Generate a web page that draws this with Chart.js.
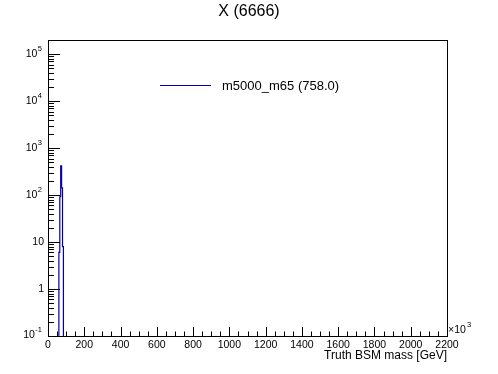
<!DOCTYPE html>
<html>
<head>
<meta charset="utf-8">
<script src="https://cdn.jsdelivr.net/npm/chart.js@4/dist/chart.umd.min.js"></script>
<style>
  html, body { margin: 0; padding: 0; background: #fff; }
  #wrap { width: 498px; height: 374px; }
</style>
</head>
<body>
<div id="wrap"><canvas id="histChart" width="498" height="374"></canvas></div>
<script>
// histogram bins (GeV) and counts
const binEdges = [60, 65, 70, 75, 80, 85];
const counts = [6, 92, 420, 142, 8];
const xTicks = [0, 200, 400, 600, 800, 1000, 1200, 1400, 1600, 1800, 2000, 2200];
const yExponents = [-1, 0, 1, 2, 3, 4, 5];
const seriesLabel = "m5000_m65 (758.0)";
const lineColor = "#0000a8";
const FONT = "'Liberation Sans', Arial, Helvetica, sans-serif";
const FLOOR = 1e-4; // below the axis minimum, clipped by the chart area

// step outline: start on the floor, one point per left edge, then drop at the last edge
const points = [{ x: binEdges[0], y: FLOOR }];
counts.forEach(function (c, i) { points.push({ x: binEdges[i], y: c }); });
points.push({ x: binEdges[binEdges.length - 1], y: counts[counts.length - 1] });
points.push({ x: binEdges[binEdges.length - 1], y: FLOOR });

const rootFrame = {
  id: "rootFrame",
  afterDraw: function (chart) {
    const ctx = chart.ctx;
    const a = chart.chartArea;
    const xs = chart.scales.x;
    const ys = chart.scales.y;
    ctx.save();
    ctx.strokeStyle = "#000";
    ctx.lineWidth = 1;
    ctx.strokeRect(Math.round(a.left) + 0.5, Math.round(a.top) + 0.5,
      Math.round(a.right - a.left), Math.round(a.bottom - a.top));

    // x ticks: minor every 50, major every 200
    ctx.beginPath();
    for (let v = 0; v <= 2200; v += 50) {
      const px = Math.round(xs.getPixelForValue(v)) + 0.5;
      const len = v % 200 === 0 ? 9 : 4.5;
      ctx.moveTo(px, a.bottom);
      ctx.lineTo(px, a.bottom - len);
    }
    // y ticks: decades and 2..9
    for (let e = -1; e <= 5; e++) {
      for (let m = 1; m <= 9; m++) {
        const v = m * Math.pow(10, e);
        if (v > ys.max) break;
        const py = Math.round(ys.getPixelForValue(v)) + 0.5;
        const len = m === 1 ? 12 : 6;
        ctx.moveTo(a.left, py);
        ctx.lineTo(a.left + len, py);
      }
    }
    ctx.stroke();

    ctx.fillStyle = "#000";
    // x labels
    ctx.font = "10.5px " + FONT;
    ctx.textAlign = "center";
    ctx.textBaseline = "top";
    xTicks.forEach(function (v) {
      ctx.fillText(String(v), xs.getPixelForValue(v), a.bottom + 4);
    });
    ctx.textAlign = "left";
    ctx.textBaseline = "middle";
    ctx.fillText("\u00d710", a.right + 1, a.bottom - 6);
    ctx.font = "7.5px " + FONT;
    ctx.fillText("3", a.right + 20, a.bottom - 11);

    // y labels
    ctx.textAlign = "right";
    yExponents.forEach(function (e) {
      let py = ys.getPixelForValue(Math.pow(10, e));
      if (e === -1) py -= 1;
      if (e === 0 || e === 1) {
        ctx.font = "10.5px " + FONT;
        ctx.fillText(e === 0 ? "1" : "10", 44, py);
      } else {
        const ex = String(e);
        ctx.font = "7.5px " + FONT;
        const w = ctx.measureText(ex).width;
        ctx.fillText(ex, 42, py - 5);
        ctx.font = "10.5px " + FONT;
        ctx.fillText("10", 42 - w - 0.5, py);
      }
    });

    // axis title
    ctx.font = "12px " + FONT;
    ctx.textAlign = "right";
    ctx.fillText("Truth BSM mass [GeV]", a.right, 356);

    // title
    ctx.font = "16px " + FONT;
    ctx.textAlign = "center";
    ctx.fillText("X (6666)", 249, 12);

    // legend
    ctx.strokeStyle = lineColor;
    ctx.beginPath();
    ctx.moveTo(160, 85.5);
    ctx.lineTo(211, 85.5);
    ctx.stroke();
    ctx.font = "13px " + FONT;
    ctx.textAlign = "left";
    ctx.fillText(seriesLabel, 222, 86);
    ctx.restore();
  }
};

new Chart(document.getElementById("histChart"), {
  type: "line",
  data: {
    datasets: [
      {
        label: seriesLabel,
        data: points,
        borderColor: lineColor,
        borderWidth: 1.2,
        pointRadius: 0,
        stepped: true,
        fill: false,
      },
    ],
  },
  options: {
    responsive: false,
    animation: false,
    layout: { padding: { left: 48, top: 40, right: 51, bottom: 38 } },
    scales: {
      x: { type: "linear", min: 0, max: 2200, display: false },
      y: { type: "logarithmic", min: 0.1, max: 2e5, display: false },
    },
    plugins: {
      legend: { display: false },
      title: { display: false },
      tooltip: { enabled: false },
    },
  },
  plugins: [rootFrame],
});
</script>
</body>
</html>
